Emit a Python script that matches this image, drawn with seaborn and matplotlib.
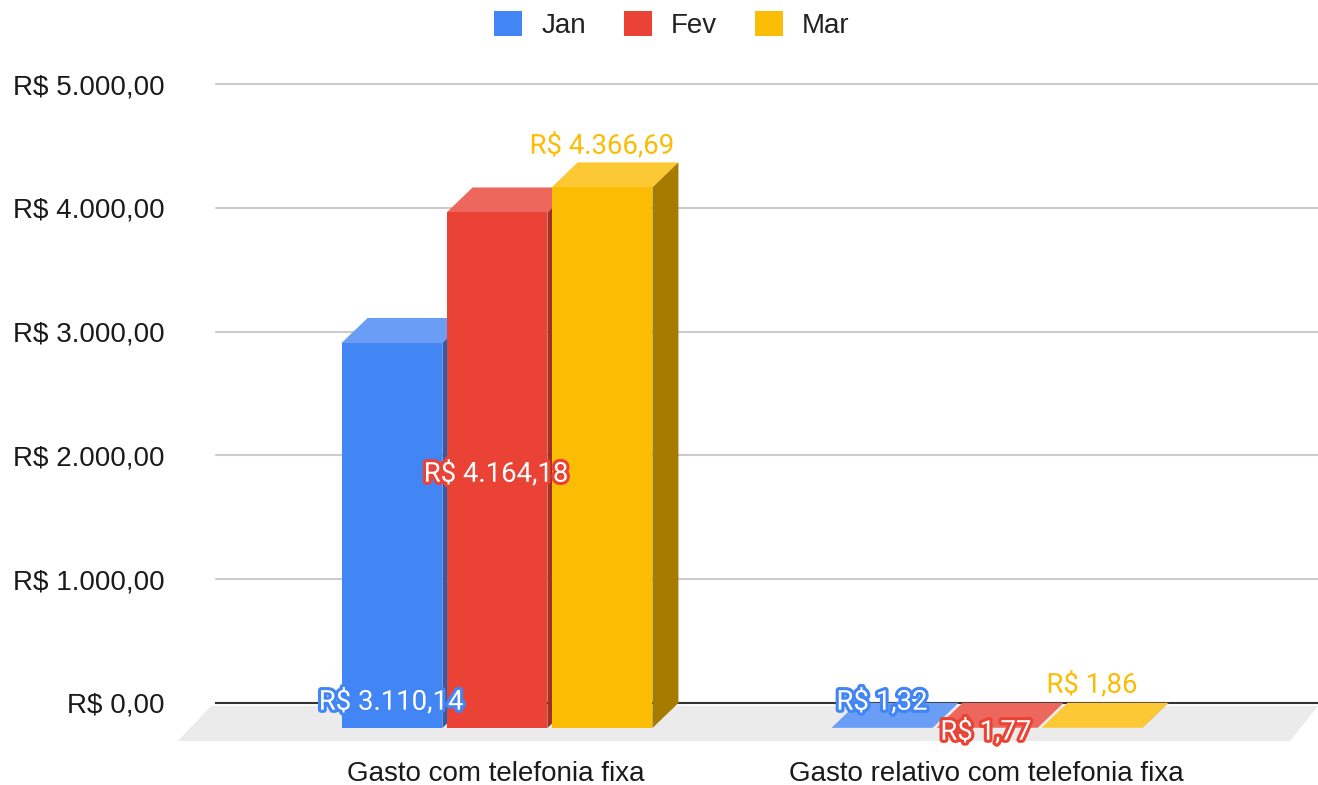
import matplotlib
matplotlib.use("Agg")
import matplotlib.pyplot as plt
import matplotlib.patheffects as pe
from matplotlib.patches import Polygon
from matplotlib.transforms import Affine2D, IdentityTransform
import pandas as pd
import seaborn as sns

categories = ["Gasto com telefonia fixa", "Gasto relativo com telefonia fixa"]
months = ["Jan", "Fev", "Mar"]
jan_values = [3110.14, 1.32]
fev_values = [4164.18, 1.77]
mar_values = [4366.69, 1.86]
jan_labels = ["R$ 3.110,14", "R$ 1,32"]
fev_labels = ["R$ 4.164,18", "R$ 1,77"]
mar_labels = ["R$ 4.366,69", "R$ 1,86"]
y_ticks = [0, 1000, 2000, 3000, 4000, 5000]
y_tick_labels = ["R$ 0,00", "R$ 1.000,00", "R$ 2.000,00", "R$ 3.000,00", "R$ 4.000,00", "R$ 5.000,00"]

W, H = 1318, 785
DX, DY = 26, 25  # depth of the 3D effect, pixels
FRONT = {"Jan": "#4285F4", "Fev": "#EA4335", "Mar": "#FBBC04"}
TOP = {"Jan": "#6A9DF6", "Fev": "#EE675C", "Mar": "#FCC934"}
SIDE = {"Jan": "#2E5DAB", "Fev": "#A32F25", "Mar": "#A67C00"}

sns.set_theme(style="white")
plt.rcParams["font.family"] = ["Liberation Sans", "DejaVu Sans"]

df = pd.DataFrame({
    "category": categories * 3,
    "month": [m for m in months for _ in categories],
    "value": jan_values + fev_values + mar_values,
})

fig = plt.figure(figsize=(W / 100, H / 100), dpi=100)
ax = fig.add_axes([216 / W, 1 - 703 / H, (1318 - 216) / W, (703 - 84) / H])
sns.barplot(data=df, x="category", y="value", hue="month", hue_order=months,
            palette=FRONT, order=categories, width=0.643, gap=0.04, ax=ax,
            errorbar=None, saturation=1, linewidth=0, zorder=3)

ax.set_xlim((216 - 523) / 490, (1318 - 523) / 490)
ax.set_ylim(0, 5000)
ax.set_yticks(y_ticks, y_tick_labels)
ax.set_xticks([0, 1], categories)
ax.set_xlabel("")
ax.set_ylabel("")
ax.tick_params(axis="y", length=0, pad=37, labelsize=20, labelcolor="#1a1a1a")
ax.tick_params(axis="x", length=0, pad=41.5, labelsize=20, labelcolor="#1a1a1a")
for lab in ax.get_xticklabels():
    lab.set_transform(lab.get_transform() + Affine2D().translate(-27, 0))

ax.yaxis.grid(True, color="#cccccc", lw=1.5, clip_on=False)
ax.xaxis.grid(False)
ax.set_axisbelow(True)
for s in ("top", "left", "right"):
    ax.spines[s].set_visible(False)
ax.spines["bottom"].set_color("#333333")
ax.spines["bottom"].set_linewidth(1.5)
ax.spines["bottom"].set_zorder(1)

# floor of the 3D scene
ax.add_patch(Polygon([(178, H - 741), (1290, H - 741), (1318, H - 706), (211, H - 706)],
                     closed=True, transform=IdentityTransform(), facecolor="#ebebeb",
                     edgecolor="none", zorder=0.4, clip_on=False))

# extrude each bar: side and top faces, then the shifted front face
offset = Affine2D().translate(-DX, -DY)
bars = [p for c in ax.containers for p in c]
names = [m for m in months for _ in categories]
order = sorted(range(len(bars)), key=lambda i: bars[i].get_x())
for z, i in enumerate(order):
    bar, m = bars[i], names[i]
    x0, x1, h = bar.get_x(), bar.get_x() + bar.get_width(), bar.get_height()
    (bx0, by1), (bx1, by0) = ax.transData.transform([(x0, h), (x1, 0)])
    base = 3 + z * 0.1
    ax.add_patch(Polygon([(bx0 - DX, by1 - DY), (bx1 - DX, by1 - DY), (bx1, by1), (bx0, by1)],
                         transform=IdentityTransform(), facecolor=TOP[m], edgecolor="none",
                         zorder=base, clip_on=False))
    ax.add_patch(Polygon([(bx1 - DX, by1 - DY), (bx1, by1), (bx1, by0), (bx1 - DX, by0 - DY)],
                         transform=IdentityTransform(), facecolor=SIDE[m], edgecolor="none",
                         zorder=base + 0.01, clip_on=False))
    bar.set_transform(ax.transData + offset)
    bar.set_zorder(base + 0.02)
    bar.set_clip_on(False)

# data labels, placed where the reference has them (pixel centres)
label_px = {
    "Jan": [(391, 702), (882, 702)],
    "Fev": [(496, 474), (986, 732)],
    "Mar": [(602, 146), (1092, 685)],
}
for m, texts in zip(months, (jan_labels, fev_labels, mar_labels)):
    for t, (px, py) in zip(texts, label_px[m]):
        is_mar = m == "Mar"
        ax.annotate(t, xy=(px, H - py), xycoords="figure pixels", ha="center", va="center",
                    fontsize=19.8, family="Roboto", zorder=10, annotation_clip=False,
                    color=FRONT[m] if is_mar else "white",
                    path_effects=[pe.withStroke(linewidth=4.5, foreground="white" if is_mar else FRONT[m])])

sns.move_legend(ax, "center", bbox_to_anchor=(672 / W, 1 - 25 / H), bbox_transform=fig.transFigure,
                ncol=3, title=None, frameon=False, fontsize=20, handlelength=1.0, handleheight=1.0,
                handletextpad=0.68, columnspacing=1.38, labelcolor="#222222", borderpad=0, borderaxespad=0)

fig.savefig("out.png", dpi=100, facecolor="white")
